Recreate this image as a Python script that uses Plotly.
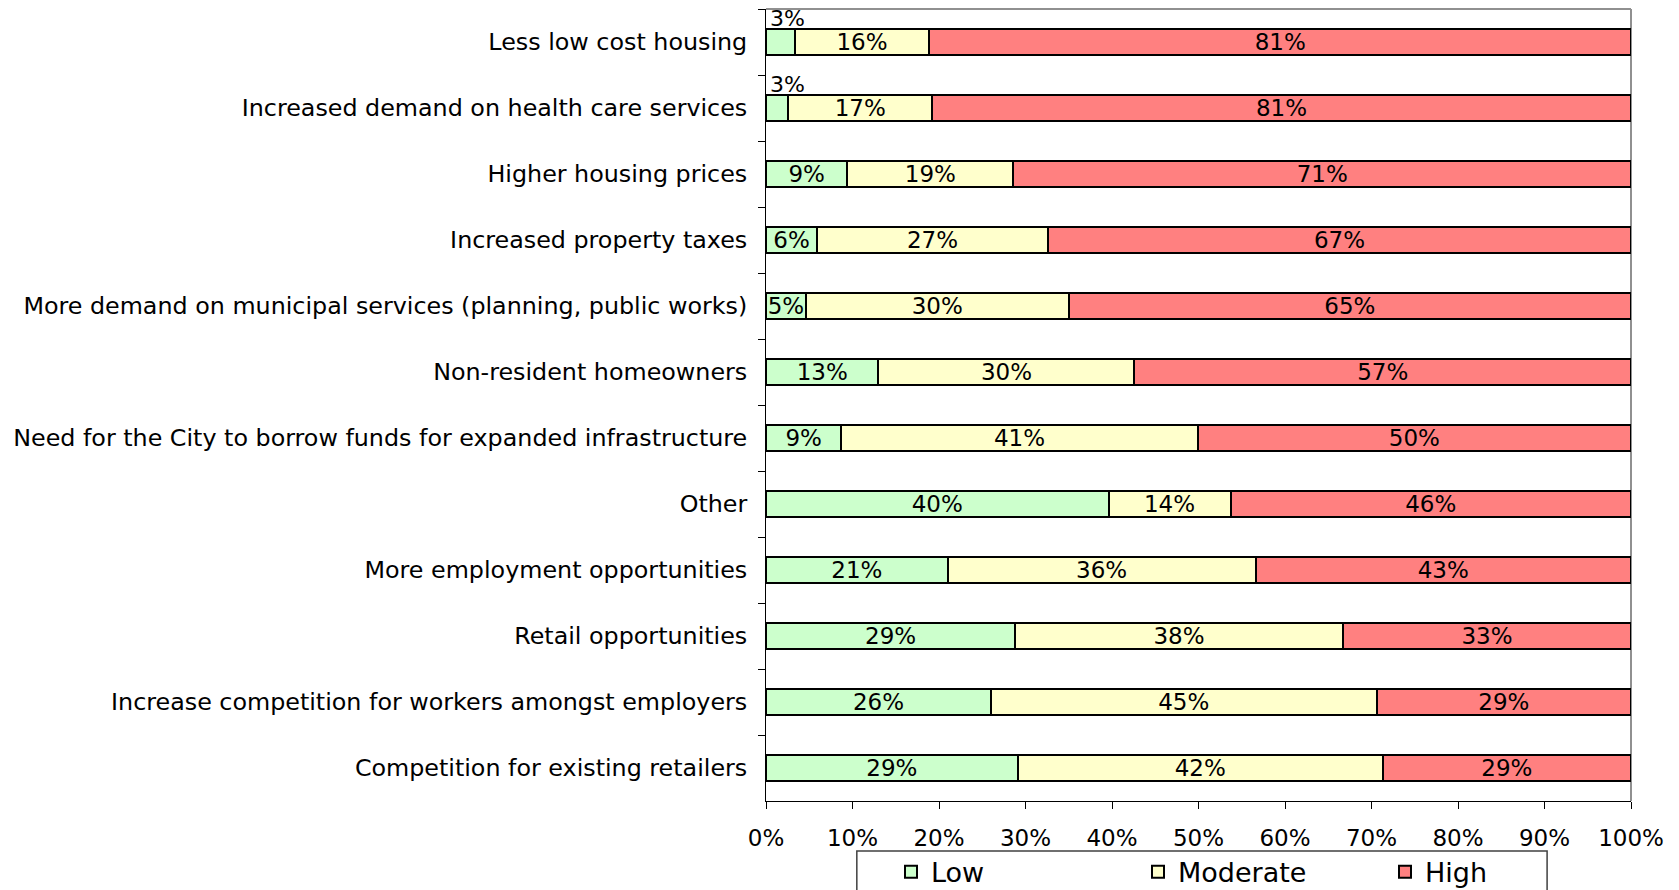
import plotly.graph_objects as go

categories = [
    "Less low cost housing",
    "Increased demand on health care services",
    "Higher housing prices",
    "Increased property taxes",
    "More demand on municipal services (planning, public works)",
    "Non-resident homeowners",
    "Need for the City to borrow funds for expanded infrastructure",
    "Other",
    "More employment opportunities",
    "Retail opportunities",
    "Increase competition for workers amongst employers",
    "Competition for existing retailers",
]
low = [3.3, 2.6, 9.4, 5.9, 4.6, 13.0, 8.7, 39.6, 21.0, 28.8, 26.0, 29.1]
moderate = [15.6, 16.6, 19.2, 26.7, 30.4, 29.6, 41.2, 14.1, 35.6, 37.9, 44.6, 42.2]
high = [81.1, 80.8, 71.4, 67.4, 65.0, 57.4, 50.1, 46.3, 43.4, 33.3, 29.4, 28.7]
x_ticks = [0, 10, 20, 30, 40, 50, 60, 70, 80, 90, 100]
x_tick_labels = [f"{v}%" for v in x_ticks]

FONT = "DejaVu Sans"
SMALL = 4  # segments narrower than this get their label placed above the bar

series = [("Low", low, "#CCFFCC"), ("Moderate", moderate, "#FFFFCC"), ("High", high, "#FF8080")]

fig = go.Figure()
for name, vals, color in series:
    fig.add_trace(go.Bar(
        name=name, y=categories, x=vals, orientation="h",
        marker=dict(color=color, line=dict(color="black", width=2)),
        text=[f"{round(v):d}%" for v in vals],
        textposition=["none" if v < SMALL else "inside" for v in vals],
        insidetextanchor="middle",
        textfont=dict(family=FONT, size=23, color="black"),
        constraintext="none",
        hoverinfo="skip",
    ))

# labels for very small segments, above the bar
for i, (cat, v) in enumerate(zip(categories, low)):
    if v < SMALL:
        fig.add_annotation(x=v / 2, y=cat, text=f"{round(v):d}%", showarrow=False,
                           yshift=24, xshift=7 + 3 * i, xanchor="center",
                           font=dict(family=FONT, size=22, color="black"))

fig.update_layout(
    barmode="stack",
    bargap=0.61,
    width=1679, height=890,
    margin=dict(l=766, r=48, t=9, b=89, autoexpand=False),
    paper_bgcolor="white", plot_bgcolor="white",
    font=dict(family=FONT, color="black"),
    showlegend=True,
    legend=dict(
        orientation="h", x=0.1445, xanchor="left", y=-0.059, yanchor="top",
        borderwidth=0, bgcolor="rgba(0,0,0,0)",
        font=dict(family=FONT, size=27, color="black"),
        entrywidth=202, traceorder="normal",
    ),
)
fig.update_xaxes(
    range=[0, 100], tickmode="array", tickvals=x_ticks, ticktext=x_tick_labels,
    showgrid=False, zeroline=False,
    showline=True, linecolor="black", linewidth=1,
    ticks="outside", ticklen=7, tickcolor="black",
    tickfont=dict(family=FONT, size=23, color="black"),
    ticklabelstandoff=9,
)
fig.update_yaxes(
    autorange="reversed", type="category",
    showgrid=False, zeroline=False,
    showline=True, linecolor="black", linewidth=1,
    ticks="outside", ticklen=7, tickcolor="black", tickson="boundaries",
    tickfont=dict(family=FONT, size=23.8, color="black"),
    ticklabelstandoff=13,
)
# gray frame on top and right
fig.add_shape(type="line", xref="x domain", yref="y domain", x0=0, x1=1, y0=1, y1=1,
              line=dict(color="#909090", width=2), layer="below")
fig.add_shape(type="line", xref="x domain", yref="y domain", x0=1, x1=1, y0=0, y1=1,
              line=dict(color="#909090", width=2), layer="below")
# legend frame
fig.add_shape(type="rect", xref="paper", yref="paper", x0=0.105, x1=0.903, y0=-0.063, y1=-0.2,
              line=dict(color="#404040", width=1.5), fillcolor="rgba(0,0,0,0)")

fig.write_html("out.html", config={"displayModeBar": False},
               post_script="document.body.style.margin='0';")
